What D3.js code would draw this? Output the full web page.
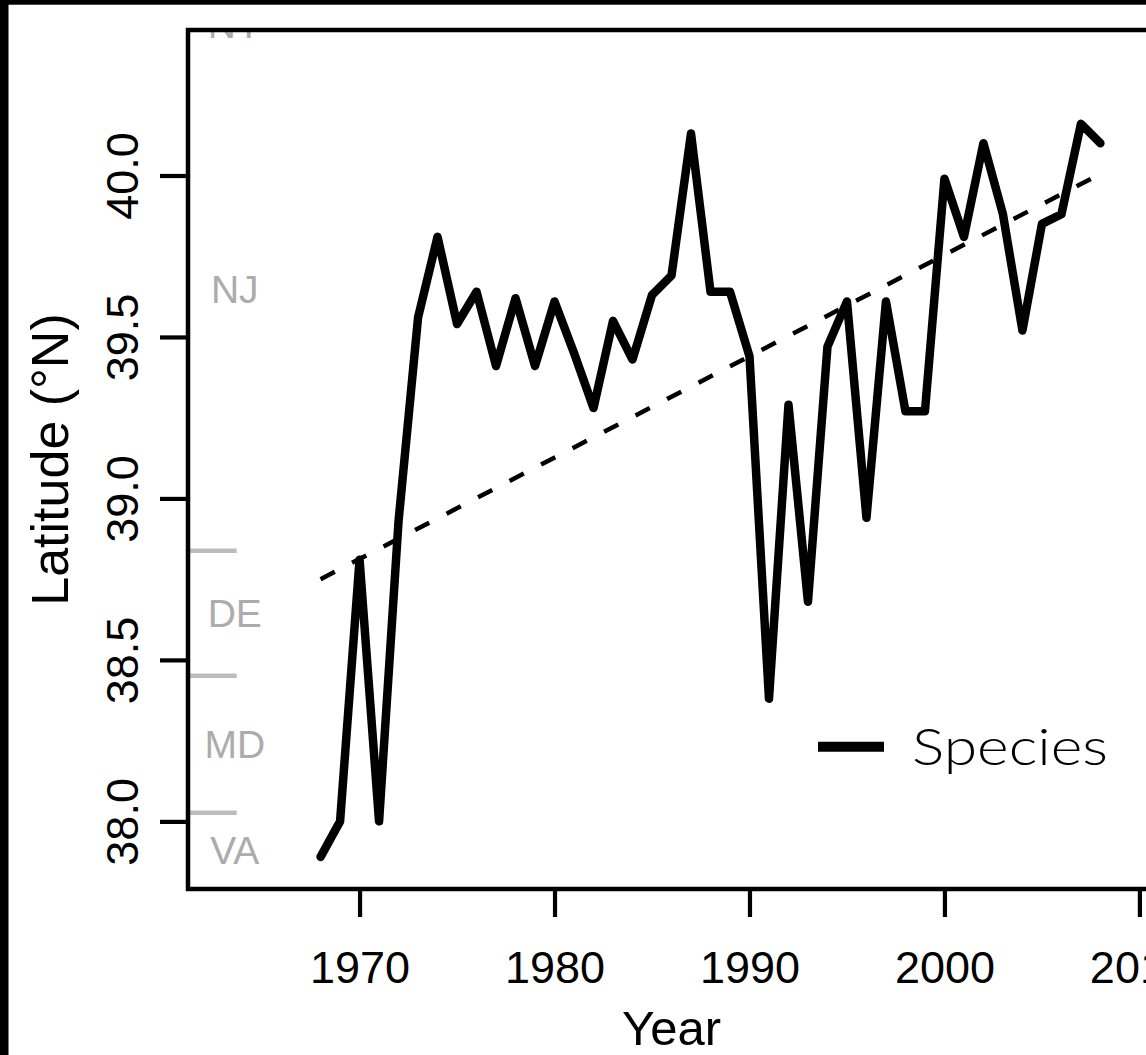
<!DOCTYPE html>
<html>
<head>
<meta charset="utf-8">
<script src="https://cdn.jsdelivr.net/npm/d3@7"></script>
<style>
  html, body { margin: 0; padding: 0; background: #fff; }
  svg { display: block; }
</style>
</head>
<body>
<script>
// ---- Data ----
const years = [1968,1969,1970,1971,1972,1973,1974,1975,1976,1977,1978,1979,1980,1981,1982,1983,1984,1985,1986,1987,1988,1989,1990,1991,1992,1993,1994,1995,1996,1997,1998,1999,2000,2001,2002,2003,2004,2005,2006,2007,2008];
const latitude = [37.89,38.00,38.81,38.00,38.93,39.56,39.81,39.54,39.64,39.41,39.62,39.41,39.61,39.45,39.28,39.55,39.43,39.63,39.69,40.13,39.64,39.64,39.44,38.38,39.29,38.68,39.47,39.61,38.94,39.61,39.27,39.27,39.99,39.81,40.10,39.88,39.52,39.85,39.88,40.16,40.10];
const trendYears = [1968, 2008];
const trendLat = [38.75, 40.005];
const stateNames = ["VA", "MD", "DE", "NJ", "NY"];
const stateLabelLat = [37.91, 38.24, 38.645, 39.65, 40.47];
const stateBoundaries = [38.027, 38.451, 38.838, 40.46];
const xTicks = [1970, 1980, 1990, 2000, 2010];
const yTicks = [38.0, 38.5, 39.0, 39.5, 40.0];
const yTickLabels = ["38.0", "38.5", "39.0", "39.5", "40.0"];
const legendLabel = "Species";
const xTitle = "Year";
const yTitle = "Latitude (\u00B0N)";

// ---- Layout ----
const W = 1146, H = 1055;
const plot = { left: 188, top: 30, right: 1155, bottom: 889 };

const svg = d3.select("body").append("svg")
  .attr("width", W).attr("height", H);

svg.append("rect").attr("width", W).attr("height", H).attr("fill", "#fff");

const x = d3.scaleLinear().domain([1961.2, 2010.8]).range([plot.left, plot.right]);
const y = d3.scaleLinear().domain([37.7906, 40.4505]).range([plot.bottom, plot.top]);

const font = "'Liberation Sans', Arial, Helvetica, sans-serif";

// clip for plot region
svg.append("defs").append("clipPath").attr("id", "plotclip")
  .append("rect")
  .attr("x", plot.left).attr("y", plot.top)
  .attr("width", plot.right - plot.left).attr("height", plot.bottom - plot.top);

const g = svg.append("g").attr("clip-path", "url(#plotclip)");

// state boundaries (gray marks on the left edge)
g.selectAll("line.state")
  .data(stateBoundaries)
  .join("line")
  .attr("class", "state")
  .attr("x1", plot.left).attr("x2", x(1963.7))
  .attr("y1", d => y(d)).attr("y2", d => y(d))
  .attr("stroke", "#bdbdbd").attr("stroke-width", 4.5);

// state labels
g.selectAll("text.state")
  .data(stateNames)
  .join("text")
  .attr("class", "state")
  .attr("x", x(1963.6))
  .attr("y", (d, i) => y(stateLabelLat[i]))
  .attr("dy", "0.36em")
  .attr("text-anchor", "middle")
  .attr("font-family", font)
  .attr("font-size", 39)
  .attr("fill", "#acacac")
  .text(d => d);

// trend line (dashed)
const trendData = trendYears.map((yr, i) => ({ yr, lat: trendLat[i] }));
g.append("path")
  .datum(trendData)
  .attr("d", d3.line().x(d => x(d.yr)).y(d => y(d.lat)))
  .attr("fill", "none")
  .attr("stroke", "#000")
  .attr("stroke-width", 4.5)
  .attr("stroke-dasharray", "16 19.5");

// data line
const series = years.map((yr, i) => ({ yr, lat: latitude[i] }));
g.append("path")
  .datum(series)
  .attr("d", d3.line().x(d => x(d.yr)).y(d => y(d.lat)))
  .attr("fill", "none")
  .attr("stroke", "#000")
  .attr("stroke-width", 8.5)
  .attr("stroke-linejoin", "round")
  .attr("stroke-linecap", "round");

// legend
svg.append("line")
  .attr("x1", 818).attr("x2", 884)
  .attr("y1", 746.7).attr("y2", 746.7)
  .attr("stroke", "#000").attr("stroke-width", 10);
svg.append("text")
  .attr("x", 912).attr("y", 765)
  .attr("font-family", "Lato, 'Open Sans', sans-serif")
  .attr("font-weight", 300)
  .attr("font-size", 52)
  .attr("textLength", 196)
  .attr("lengthAdjust", "spacingAndGlyphs")
  .attr("fill", "#000")
  .text(legendLabel);

// plot box
svg.append("rect")
  .attr("x", plot.left).attr("y", plot.top)
  .attr("width", plot.right - plot.left).attr("height", plot.bottom - plot.top)
  .attr("fill", "none").attr("stroke", "#000").attr("stroke-width", 4.5);

// x axis
const xAxis = d3.axisBottom(x).tickValues(xTicks).tickSize(28).tickPadding(42).tickFormat(d3.format("d"));
const xg = svg.append("g").attr("transform", `translate(0,${plot.bottom})`).call(xAxis);
xg.select(".domain").remove();
xg.selectAll(".tick line").attr("stroke", "#000").attr("stroke-width", 4.2);
xg.selectAll(".tick text")
  .attr("font-family", font).attr("font-size", 45).attr("fill", "#000")
  .attr("dy", null).attr("y", 94);

// y axis
const yAxis = d3.axisLeft(y).tickValues(yTicks).tickSize(28).tickFormat((d, i) => yTickLabels[i]);
const yg = svg.append("g").attr("transform", `translate(${plot.left},0)`).call(yAxis);
yg.select(".domain").remove();
yg.selectAll(".tick line").attr("stroke", "#000").attr("stroke-width", 4.2);
yg.selectAll(".tick text")
  .attr("font-family", font).attr("font-size", 45).attr("fill", "#000")
  .attr("x", null).attr("dy", null)
  .attr("text-anchor", "middle")
  .attr("transform", "translate(-50,0) rotate(-90)");

// axis titles
svg.append("text")
  .attr("x", (plot.left + plot.right) / 2).attr("y", 1045)
  .attr("text-anchor", "middle")
  .attr("font-family", font).attr("font-size", 49).attr("fill", "#000")
  .text(xTitle);
svg.append("text")
  .attr("transform", `translate(68,${(plot.top + plot.bottom) / 2}) rotate(-90)`)
  .attr("text-anchor", "middle")
  .attr("font-family", font).attr("font-size", 52).attr("fill", "#000")
  .text(yTitle);

// black frame edges (left & top)
svg.append("rect").attr("x", 0).attr("y", 0).attr("width", 8.5).attr("height", H).attr("fill", "#000");
svg.append("rect").attr("x", 0).attr("y", 0).attr("width", W).attr("height", 4.7).attr("fill", "#000");
</script>
</body>
</html>
